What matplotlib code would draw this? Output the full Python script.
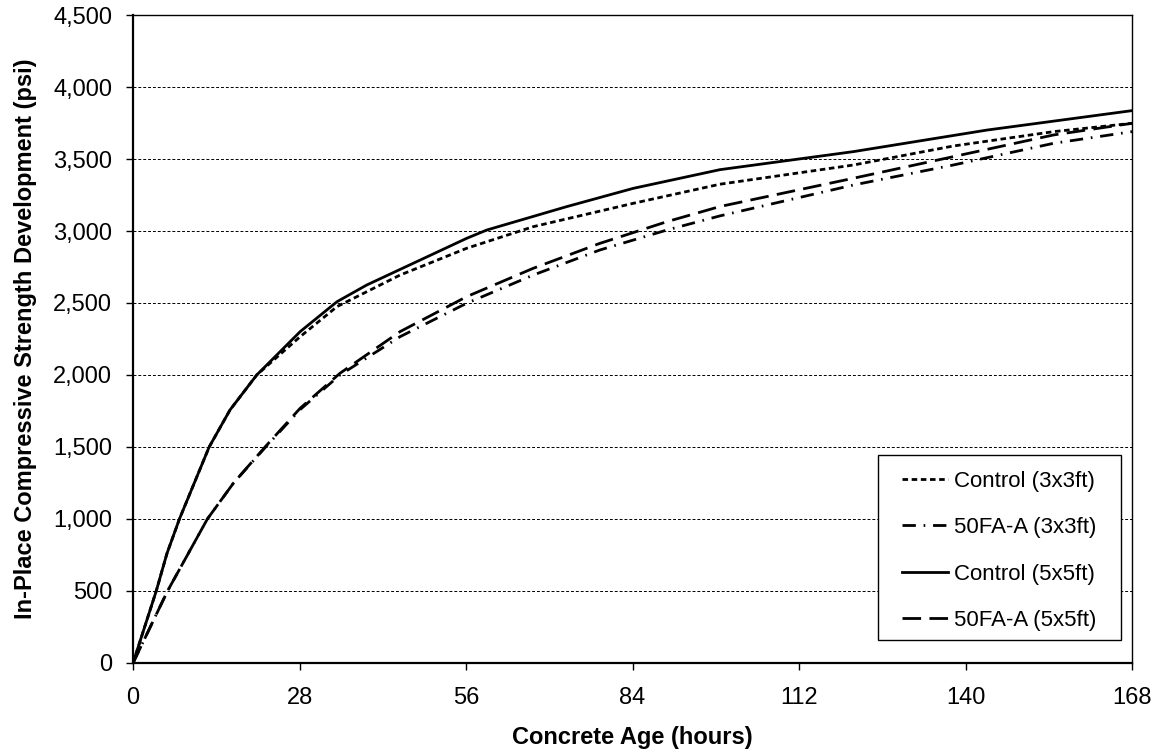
import numpy as np
import matplotlib
matplotlib.use('Agg')
import matplotlib.pyplot as plt
from matplotlib.ticker import FuncFormatter
from matplotlib.patches import Rectangle

plt.rcParams['font.family'] = ['Liberation Sans', 'DejaVu Sans']

# values (hours, psi)
ctrl3_t = [0, 3.9, 5.7, 7.8, 12.8, 16.3, 20.8, 28.1, 34.3, 44.9, 56.1, 67.3, 84.1, 98.7, 121.1, 137.9, 154.8, 168]
ctrl3_s = [0, 500, 760, 1000, 1500, 1757, 2000, 2266, 2475, 2694, 2880, 3030, 3192, 3325, 3458, 3590, 3690, 3748]

fa3_t = [0, 5.8, 12.5, 16.9, 22.3, 28.1, 34.8, 44.9, 56.1, 67.3, 78.5, 89.8, 98.7, 121.1, 137.9, 154.8, 168]
fa3_s = [0, 500, 1000, 1250, 1500, 1760, 2000, 2266, 2498, 2694, 2868, 3007, 3105, 3319, 3458, 3609, 3690]

ctrl5_t = [0, 3.9, 5.7, 7.8, 12.8, 16.3, 20.8, 28.1, 34.3, 39.3, 56.1, 59.5, 72.9, 84.1, 98.7, 121.1, 143.6, 168]
ctrl5_s = [0, 500, 760, 1000, 1500, 1757, 2000, 2301, 2509, 2625, 2949, 3007, 3169, 3296, 3426, 3551, 3701, 3836]

fa5_t = [0, 5.8, 12.5, 16.9, 22.2, 28.1, 34.8, 44.9, 56.1, 67.3, 78.5, 89.8, 98.7, 121.1, 137.9, 154.8, 168]
fa5_s = [0, 500, 1000, 1250, 1500, 1769, 2012, 2301, 2544, 2741, 2914, 3065, 3170, 3366, 3516, 3667, 3748]

labels = ['Control (3x3ft)', '50FA-A (3x3ft)', 'Control (5x5ft)', '50FA-A (5x5ft)']
x_ticks = [0, 28, 56, 84, 112, 140, 168]
y_ticks = [0, 500, 1000, 1500, 2000, 2500, 3000, 3500, 4000, 4500]

fig = plt.figure(figsize=(11.62, 7.55), dpi=100)
ax = fig.add_axes([0.1145, 0.1219, 0.8597, 0.8582])

lw = 2.0
ax.plot(ctrl3_t, ctrl3_s, c='k', lw=lw, dashes=(2.0, 1.3), label=labels[0])
ax.plot(fa3_t, fa3_s, c='k', lw=lw, dashes=(4.8, 2.8, 0.6, 2.8), label=labels[1])
ax.plot(ctrl5_t, ctrl5_s, c='k', lw=lw, label=labels[2])
ax.plot(fa5_t, fa5_s, c='k', lw=lw, dashes=(6.7, 3.0), label=labels[3])

ax.set_xlim(0, 168)
ax.set_ylim(0, 4500)
ax.set_xticks(x_ticks)
ax.set_yticks(y_ticks)
ax.yaxis.set_major_formatter(FuncFormatter(lambda v, p: '{:,.0f}'.format(v)))
ax.tick_params(direction='out', length=5, width=1, labelsize=17, colors='k')
ax.tick_params(axis='x', pad=12)
ax.tick_params(axis='y', pad=10)
ax.grid(axis='y', color='k', lw=0.7, ls=(0, (3, 2)))
ax.set_axisbelow(True)

for s in ['left', 'bottom']:
    ax.spines[s].set_linewidth(1.6)
for s in ['top', 'right']:
    ax.spines[s].set_linewidth(1.0)

ax.set_xlabel('Concrete Age (hours)', fontsize=17, fontweight='bold')
ax.set_ylabel('In-Place Compressive Strength Development (psi)', fontsize=17, fontweight='bold')
ax.xaxis.set_label_coords(0.5, -0.097)
ax.yaxis.set_label_coords(-0.096, 0.5)

# legend frame drawn separately so padding matches the reference
ax.add_patch(Rectangle((0.7457, 0.0361), 0.2433, 0.2849, transform=ax.transAxes,
                       facecolor='white', edgecolor='k', lw=1.0, zorder=4))
leg = ax.legend(loc='upper left', bbox_to_anchor=(0.770, 0.297), fontsize=16, frameon=False,
                borderaxespad=0, borderpad=0, handlelength=2.07, handletextpad=0.25,
                labelspacing=1.15)
leg.set_zorder(5)

fig.savefig('out.png', dpi=100)
